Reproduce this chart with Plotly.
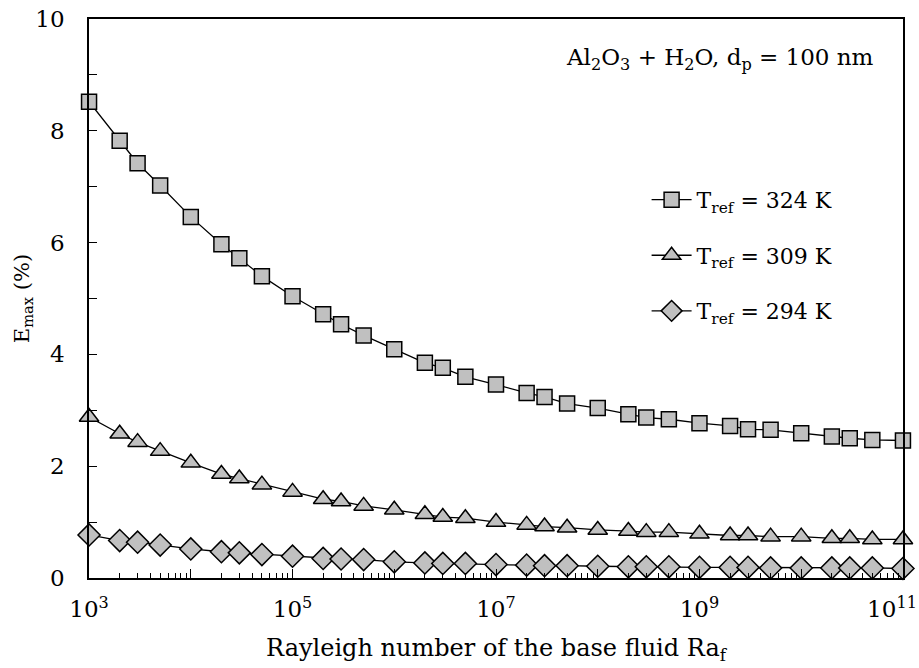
import plotly.graph_objects as go

# Rayleigh numbers: 1,2,3,5 x 10^k for k=3..10, plus 1e11
ra = [1e3, 2e3, 3e3, 5e3, 1e4, 2e4, 3e4, 5e4, 1e5, 2e5, 3e5, 5e5, 1e6, 2e6, 3e6, 5e6,
      1e7, 2e7, 3e7, 5e7, 1e8, 2e8, 3e8, 5e8, 1e9, 2e9, 3e9, 5e9, 1e10, 2e10, 3e10, 5e10, 1e11]

e_324 = [8.52, 7.82, 7.42, 7.02, 6.46, 5.97, 5.72, 5.40, 5.04, 4.72, 4.54, 4.34, 4.09, 3.85, 3.76, 3.60,
         3.46, 3.31, 3.24, 3.12, 3.04, 2.93, 2.87, 2.84, 2.77, 2.72, 2.66, 2.65, 2.59, 2.53, 2.50, 2.47, 2.46]
e_309 = [2.88, 2.58, 2.43, 2.27, 2.06, 1.86, 1.78, 1.67, 1.54, 1.41, 1.37, 1.29, 1.22, 1.14, 1.09, 1.07,
         1.00, 0.95, 0.92, 0.90, 0.86, 0.84, 0.82, 0.82, 0.79, 0.76, 0.76, 0.74, 0.74, 0.71, 0.71, 0.69, 0.69]
e_294 = [0.77, 0.67, 0.64, 0.59, 0.52, 0.47, 0.45, 0.42, 0.39, 0.35, 0.34, 0.33, 0.29, 0.27, 0.26, 0.26,
         0.24, 0.23, 0.22, 0.22, 0.21, 0.20, 0.20, 0.20, 0.19, 0.19, 0.19, 0.18, 0.18, 0.18, 0.18, 0.18, 0.17]

series_names = ["T<sub>ref</sub> = 324 K", "T<sub>ref</sub> = 309 K", "T<sub>ref</sub> = 294 K"]

x_major = [1e3, 1e4, 1e5, 1e6, 1e7, 1e8, 1e9, 1e10, 1e11]
x_major_text = ["10<sup>3</sup>", "", "10<sup>5</sup>", "", "10<sup>7</sup>", "", "10<sup>9</sup>", "",
                "10<sup>11</sup>\u00a0\u00a0\u00a0"]
x_minor = [m * 10 ** k for k in range(3, 11) for m in range(2, 10)]

FONT = "DejaVu Serif"
fill = "#c0c0c0"

fig = go.Figure()
symbols = ["square", "triangle-up", "diamond"]
sizes = [15, 17, 17]
for i, (ys, name) in enumerate(zip([e_324, e_309, e_294], series_names)):
    fig.add_trace(go.Scatter(
        x=ra, y=ys, mode="lines+markers", name=name, legendgroup=str(i),
        line=dict(color="black", width=1.3),
        marker=dict(symbol=symbols[i], size=sizes[i], color=fill,
                    line=dict(color="black", width=1.5)),
        cliponaxis=False,
    ))

fig.update_layout(
    width=919, height=668,
    margin=dict(l=89, r=16, t=19, b=90),
    paper_bgcolor="white", plot_bgcolor="white",
    font=dict(family=FONT, size=22, color="black"),
    showlegend=True,
    legend=dict(x=0.685, y=0.714, xanchor="left", yanchor="top",
                bgcolor="rgba(0,0,0,0)", tracegroupgap=24,
                font=dict(family=FONT, size=22, color="black"), itemwidth=40),
    xaxis=dict(type="log", range=[2.9995, 11.0005], showgrid=False, zeroline=False,
               automargin=False,
               showline=True, linecolor="black", linewidth=1.5, mirror=True,
               ticks="inside", ticklen=9, tickwidth=1.3, tickcolor="black",
               tickmode="array", tickvals=x_major, ticktext=x_major_text,
               tickfont=dict(family=FONT, size=23, color="black"), ticklabelstandoff=10,
               ticklabeloverflow="allow",
               minor=dict(tickmode="array", tickvals=x_minor, ticks="inside",
                          ticklen=5, tickwidth=1, tickcolor="black", showgrid=False),
               title=dict(text="Rayleigh number of the base fluid Ra<sub>f</sub>",
                          font=dict(family=FONT, size=24, color="black"), standoff=18)),
    yaxis=dict(range=[0, 10], showgrid=False, zeroline=False,
               automargin=False,
               showline=True, linecolor="black", linewidth=1.5, mirror=True,
               ticks="inside", ticklen=8, tickwidth=1.3, tickcolor="black",
               tickmode="linear", tick0=0, dtick=2,
               tickfont=dict(family=FONT, size=23, color="black"), ticklabelstandoff=18,
               minor=dict(dtick=1, ticks="inside", ticklen=8, tickwidth=1.3,
                          tickcolor="black", showgrid=False),
               title=dict(text="E<sub>max</sub> (%)", font=dict(family=FONT, size=21, color="black"),
                          standoff=0)),
    annotations=[dict(
        text="Al<sub>2</sub>O<sub>3</sub> + H<sub>2</sub>O, d<sub>p</sub> = 100 nm",
        xref="paper", yref="paper", x=0.967, y=0.928, xanchor="right", yanchor="middle",
        showarrow=False, font=dict(family=FONT, size=23, color="black"))],
)

fig.write_html("out.html")
